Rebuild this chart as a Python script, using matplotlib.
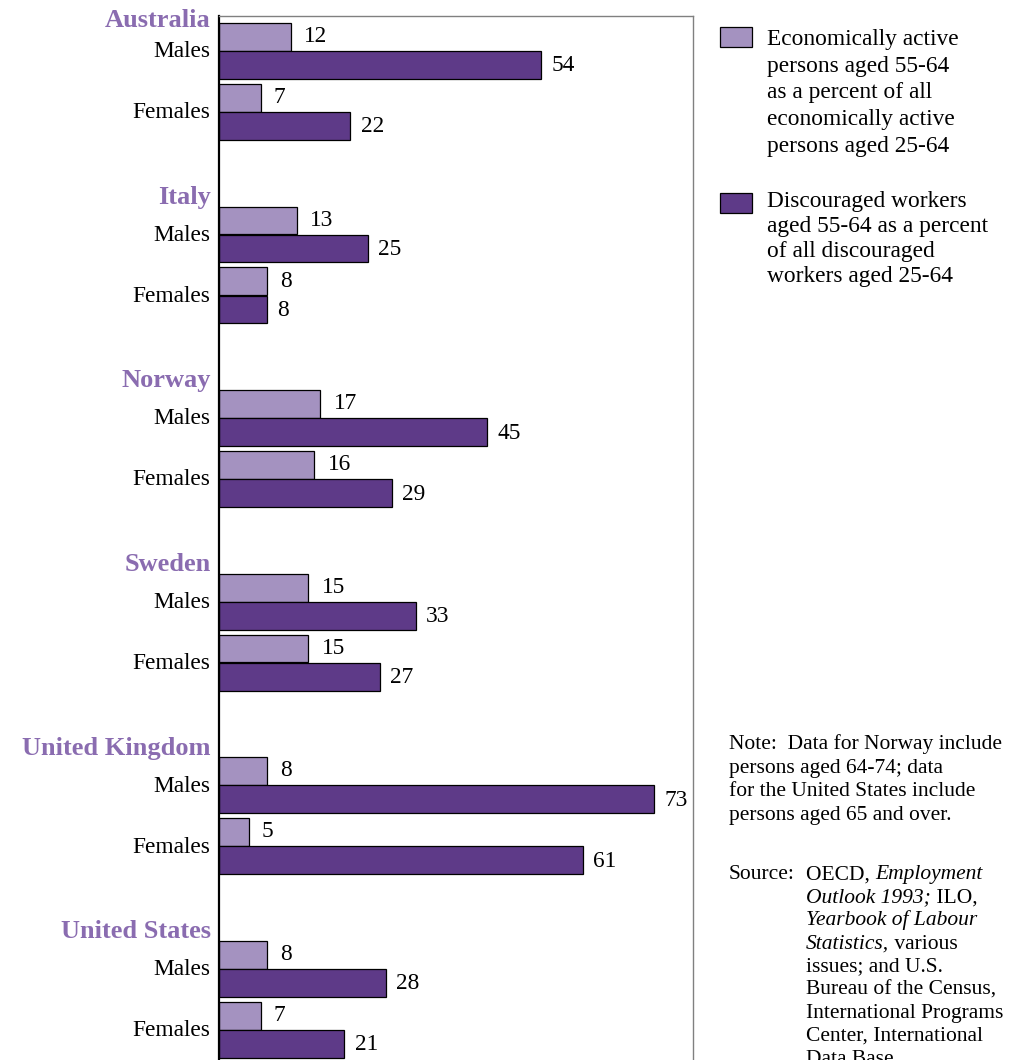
import matplotlib
matplotlib.use("Agg")
import matplotlib.pyplot as plt
from matplotlib.patches import Rectangle

plt.rcParams['font.family'] = ['Liberation Serif', 'DejaVu Serif']

# ---- data ----
countries = ["Australia", "Italy", "Norway", "Sweden", "United Kingdom", "United States"]
active_males = [12, 13, 17, 15, 8, 8]
disc_males = [54, 25, 45, 33, 73, 28]
active_females = [7, 8, 16, 15, 5, 7]
disc_females = [22, 8, 29, 27, 61, 21]
sex_labels = ["Males", "Females"]
legend_active = ["Economically active", "persons aged 55-64", "as a percent of all",
                 "economically active", "persons aged 25-64"]
legend_disc = ["Discouraged workers", "aged 55-64 as a percent", "of all discouraged",
               "workers aged 25-64"]
note_lines = ["Note:  Data for Norway include", "persons aged 64-74; data",
              "for the United States include", "persons aged 65 and over."]
source_lines = [
    [("OECD, ", "normal"), ("Employment", "italic")],
    [("Outlook 1993;", "italic"), (" ILO,", "normal")],
    [("Yearbook of Labour", "italic")],
    [("Statistics,", "italic"), (" various", "normal")],
    [("issues; and U.S.", "normal")],
    [("Bureau of the Census,", "normal")],
    [("International Programs", "normal")],
    [("Center, International", "normal")],
    [("Data Base.", "normal")],
]

# ---- style ----
LIGHT = "#a492c0"
DARK = "#5e3a88"
COUNTRY_C = "#8a6cb0"
W, H = 1018, 1060
FS = 16.8
NOTE_FS = 15.5

fig = plt.figure(figsize=(W / 100, H / 100), dpi=100)
ax = fig.add_axes([219 / W, 0, 474 / W, 1 - 16 / H])

P = 6.604      # group period (bar units)
BH = 1.0       # bar height
offs = [0.0, 1.007, 2.19, 3.2]

for g, c in enumerate(countries):
    base = g * P
    vals = [active_males[g], disc_males[g], active_females[g], disc_females[g]]
    cols = [LIGHT, DARK, LIGHT, DARK]
    for k in range(4):
        y = base + offs[k]
        ax.barh(y, vals[k], height=BH, align='edge', color=cols[k],
                edgecolor='black', linewidth=0.9)
        light = (k % 2 == 0)
        ax.annotate(str(vals[k]), xy=(vals[k], y + BH / 2), xycoords='data',
                    xytext=(9.5 if light else 7.5, -3.7 if light else -4.7),
                    textcoords='offset points',
                    ha='left', va='baseline', fontsize=FS, color='black',
                    annotation_clip=False)
    # country label
    ax.annotate(c, xy=(0, base), xycoords=('axes fraction', 'data'),
                xytext=(-6, 2 if g > 0 else -3), textcoords='offset points', ha='right',
                va='baseline', fontsize=19, fontweight='bold', color=COUNTRY_C,
                annotation_clip=False)
    for s, k in zip(sex_labels, [1, 3]):
        ax.annotate(s, xy=(0, base + offs[k]), xycoords=('axes fraction', 'data'),
                    xytext=(-6.5, -4.5), textcoords='offset points', ha='right',
                    va='baseline', fontsize=FS, color='black', annotation_clip=False)

ax.set_xlim(0, 79.5)
ax.set_ylim((H - 23) / 27.8, -7 / 27.8)
ax.set_xticks([])
ax.set_yticks([])
ax.spines['bottom'].set_visible(False)
ax.spines['left'].set_color('black')
ax.spines['left'].set_linewidth(1.6)
ax.spines['top'].set_color('#808080')
ax.spines['right'].set_color('#808080')
ax.spines['top'].set_linewidth(1.0)
ax.spines['right'].set_linewidth(1.0)


def fx(x):
    return x / W


def fy(y):
    return 1 - y / H


# ---- legend ----
fig.add_artist(Rectangle((fx(720), fy(46.5)), 32 / W, 19.5 / H, transform=fig.transFigure,
                         facecolor=LIGHT, edgecolor='black', linewidth=0.9))
fig.add_artist(Rectangle((fx(720), fy(213)), 32 / W, 20 / H, transform=fig.transFigure,
                         facecolor=DARK, edgecolor='black', linewidth=0.9))
for i, line in enumerate(legend_active):
    fig.text(fx(767), fy(45 + 26.7 * i), line, fontsize=FS, va='baseline', ha='left')
for i, line in enumerate(legend_disc):
    fig.text(fx(767), fy(206.7 + 25 * i), line, fontsize=FS, va='baseline', ha='left')

# ---- note ----
for i, line in enumerate(note_lines):
    fig.text(fx(729), fy(749 + 23.6 * i), line, fontsize=NOTE_FS, va='baseline', ha='left')

# ---- source ----
fig.text(fx(729), fy(879.3), "Source:", fontsize=NOTE_FS, va='baseline', ha='left')
for i, parts in enumerate(source_lines):
    yb = fy(879.3 + 23.1 * i)
    t = fig.text(fx(806), yb, parts[0][0], fontsize=NOTE_FS, style=parts[0][1],
                 va='baseline', ha='left')
    for txt, st in parts[1:]:
        t = ax.annotate(txt, xy=(1, 0), xycoords=t, va='bottom', ha='left',
                        fontsize=NOTE_FS, style=st)

fig.savefig("out.png", dpi=100)
